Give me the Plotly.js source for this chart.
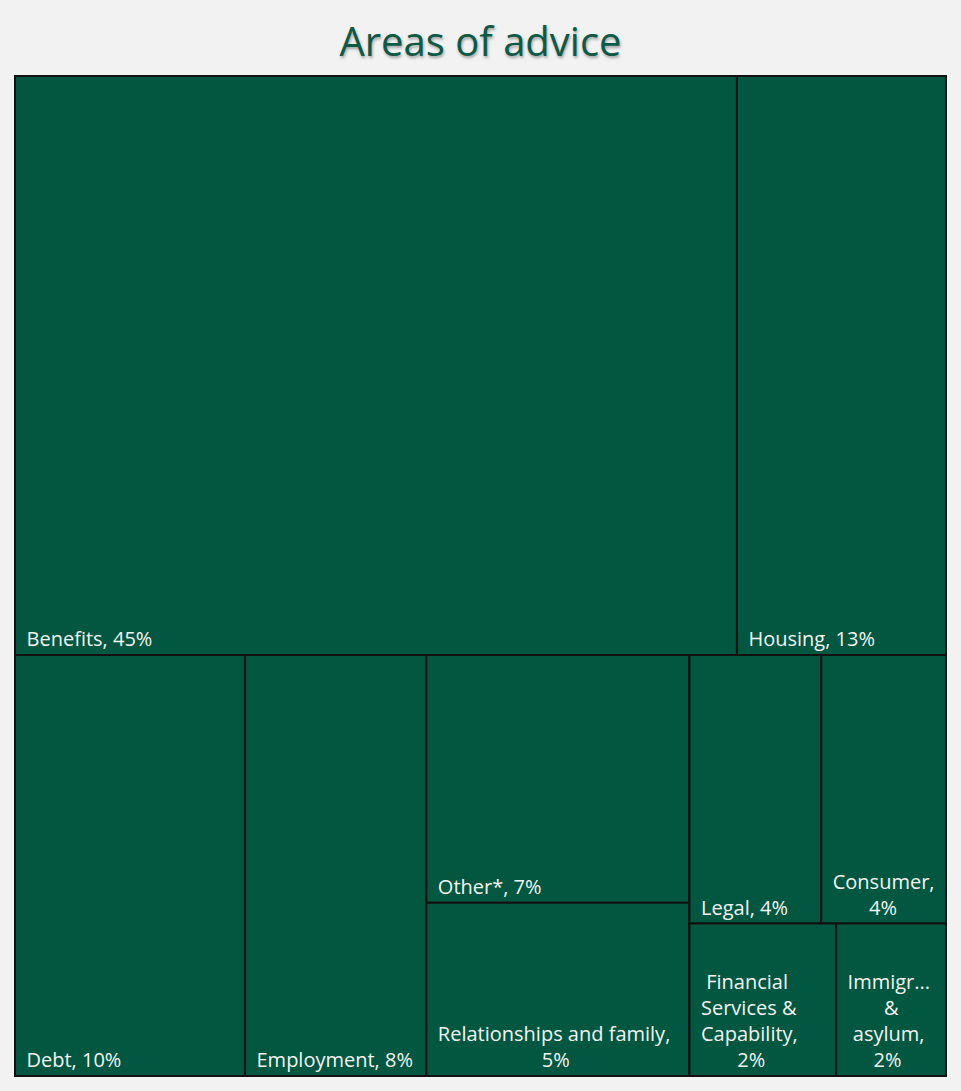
<!DOCTYPE html>
<html>
<head>
<meta charset="utf-8">
<script src="https://cdn.plot.ly/plotly-3.0.1.min.js"></script>
<style>html,body{margin:0;padding:0;background:#f2f2f2;}#chart{width:961px;height:1091px;}</style>
</head>
<body>
<div id="chart"></div>
<script>
// Node ids (leaves + invisible grouping nodes that reproduce the reference tiling)
var ids = ["Top", "Benefits", "Housing",
  "Bottom", "Debt", "Employment",
  "G1", "Other*", "Relationships and family",
  "G2", "G2a", "Legal", "Consumer",
  "G2b", "Financial Services & Capability", "Immigration & asylum"];
var parents = ["", "Top", "Top",
  "", "Bottom", "Bottom",
  "Bottom", "G1", "G1",
  "Bottom", "G2", "G2a", "G2a",
  "G2", "G2b", "G2b"];
// Share of advice (%), estimated from tile areas (group nodes = 0)
var values = [0, 44.9, 13.0,
  0, 10.4, 8.2,
  0, 7.0, 4.9,
  0, 0, 3.8, 3.6,
  0, 2.4, 1.8];
// Displayed labels (as in the reference, with its line breaks)
var labelLines = [[], ["Benefits, 45%"], ["Housing, 13%"],
  [], ["Debt, 10%"], ["Employment, 8%"],
  [], ["Other*, 7%"], ["Relationships and family,", "5%"],
  [], [], ["Legal, 4%"], ["Consumer,", "4%"],
  [], ["Financial", "Services &", "Capability,", "2%"], ["Immigr...", "&", "asylum,", "2%"]];

var FONT = "Open Sans";
var FS = 20;
var GREEN = "#01573f";

// center wrapped lines within the text block using non-breaking spaces
var cv = document.createElement("canvas").getContext("2d");
cv.font = FS + "px '" + FONT + "'";
var nb = cv.measureText("\u00a0").width;
function buildText(lines) {
  if (!lines.length) return "";
  var ws = lines.map(function (l) { return cv.measureText(l).width; });
  var mx = Math.max.apply(null, ws);
  var pre = "\u00a0\u2009";
  return lines.map(function (l, i) {
    var n = Math.round((mx - ws[i]) / 2 / nb);
    return pre + "\u00a0".repeat(n) + l;
  }).join("<br>");
}
var texts = labelLines.map(buildText);

var trace = {
  type: "treemap",
  ids: ids,
  labels: ids,
  parents: parents,
  values: values,
  text: texts,
  textinfo: "text",
  branchvalues: "remainder",
  sort: false,
  tiling: {packing: "dice-slice", pad: 0},
  pathbar: {visible: false},
  marker: {
    colors: ids.map(function () { return GREEN; }),
    line: {color: "#111111", width: 2},
    pad: {t: 0, l: 0, r: 0, b: 0}
  },
  textposition: "bottom left",
  textfont: {family: FONT, size: FS, color: "#f4f4f4"},
  hoverinfo: "none",
  root: {color: GREEN}
};

var layout = {
  width: 961, height: 1091,
  paper_bgcolor: "#f2f2f2",
  margin: {l: 15, r: 15, t: 76, b: 15},
  title: {
    text: "Areas of advice",
    x: 0.5, xanchor: "center",
    yref: "container", y: 1 - 42 / 1091, yanchor: "middle",
    font: {family: FONT, size: 40, color: "#0c5a45", shadow: "1px 2px 3px rgba(0,0,0,0.35)"}
  },
  showlegend: false
};

Plotly.newPlot("chart", [trace], layout, {displayModeBar: false, staticPlot: true});
</script>
</body>
</html>
